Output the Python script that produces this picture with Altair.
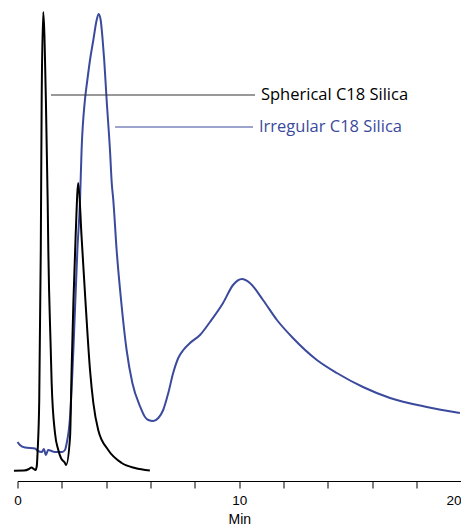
import altair as alt
import pandas as pd

# Spherical C18 Silica trace (time in min, detector signal in arbitrary units)
sph_t = [-0.16, 0.29, 0.52, 0.63, 0.74, 0.81, 0.87, 0.91, 0.98, 1.05, 1.09, 1.16,
         1.28, 1.36, 1.39, 1.50, 1.54, 1.69, 1.84, 1.96, 2.14, 2.19, 2.37, 2.44,
         2.52, 2.62, 2.74, 2.89, 3.07, 3.27, 3.42, 3.64, 4.09, 4.70, 5.30, 5.97]
sph_s = [10.3, 10.5, 12, 13.5, 12, 11, 15, 31, 81, 231, 381, 469,
         381, 281, 231, 131, 98, 48, 31, 23, 18, 16, 44, 111,
         178, 244, 298, 244, 178, 111, 78, 51, 31, 18, 13, 10.5]

# Irregular C18 Silica trace
irr_t = [0.00, 0.11, 0.34, 0.79, 0.92, 1.10, 1.19, 1.28, 1.38, 1.69, 2.01, 2.14,
         2.22, 2.37, 2.52, 2.70, 2.82, 2.89, 3.04, 3.15, 3.27, 3.42, 3.57, 3.66,
         3.75, 3.84, 3.91, 4.02, 4.17, 4.25, 4.32, 4.47, 4.67, 4.92, 5.18, 5.52,
         5.75, 5.90, 6.12, 6.35, 6.57, 6.80, 7.02, 7.25, 7.48, 7.78, 8.23, 8.68,
         9.27, 9.72, 10.12, 10.48, 11.07, 11.70, 12.42, 13.50, 14.40, 15.58, 16.80,
         18.46, 19.95]
irr_s = [39, 36, 33.5, 32.5, 30, 29, 32, 26, 31, 29, 29, 31,
         38, 64, 131, 231, 281, 331, 381, 401, 421, 441, 461, 467,
         461, 441, 421, 381, 331, 298, 281, 231, 181, 131, 98, 75,
         64, 61, 60, 63, 71, 88, 108, 123, 131, 138, 146, 159,
         178, 196, 202, 198, 181, 161, 143, 121, 108, 94, 83,
         74, 68]

labels = ["Spherical C18 Silica", "Irregular C18 Silica"]
label_colors = ["#000000", "#3b4a9c"]
leader_colors = ["#333333", "#3b4a9c"]
leader_start = [1.51, 4.40]
leader_end = [10.71, 10.62]
label_x = [10.98, 10.89]
label_y = [386, 354]

tick_values = list(range(0, 21))

sph = pd.DataFrame({"t": sph_t, "s": sph_s})
irr = pd.DataFrame({"t": irr_t, "s": irr_s})
ann = pd.DataFrame({"label": labels, "color": label_colors, "lcolor": leader_colors,
                    "x0": leader_start, "x1": leader_end, "tx": label_x, "ty": label_y})

xscale = alt.Scale(domain=[0, 20], nice=False, zero=False)
yscale = alt.Scale(domain=[0, 469], nice=False, zero=False)

xaxis = alt.Axis(values=tick_values, labelExpr="datum.value % 10 == 0 ? datum.label : ''",
                 labelAlign=alt.ExprRef(expr="datum.value == 20 ? 'right' : 'center'"),
                 grid=False, tickSize=7, tickColor="black", domainColor="black",
                 labelFont="Liberation Sans", labelFontSize=13.5, labelColor="black",
                 labelPadding=5, title="Min", titleFont="Liberation Sans",
                 titleFontSize=14, titleFontWeight="normal", titleColor="black",
                 titlePadding=6, labelFlush=False)

blue_line = alt.Chart(irr).mark_line(color="#3b4a9c", strokeWidth=2, interpolate="monotone").encode(
    x=alt.X("t:Q", scale=xscale, axis=xaxis),
    y=alt.Y("s:Q", scale=yscale, axis=None),
)
black_line = alt.Chart(sph).mark_line(color="#000000", strokeWidth=2, interpolate="monotone").encode(
    x=alt.X("t:Q", scale=xscale),
    y=alt.Y("s:Q", scale=yscale),
)
leaders = alt.Chart(ann).mark_rule(strokeWidth=1).encode(
    x=alt.X("x0:Q", scale=xscale),
    x2="x1:Q",
    y=alt.Y("ty:Q", scale=yscale),
    color=alt.Color("lcolor:N", scale=None),
)
texts = alt.Chart(ann).mark_text(align="left", baseline="middle", font="Open Sans",
                                 fontSize=16.5).encode(
    x=alt.X("tx:Q", scale=xscale),
    y=alt.Y("ty:Q", scale=yscale),
    text="label:N",
    color=alt.Color("color:N", scale=None),
)

chart = alt.layer(blue_line, black_line, leaders, texts).properties(
    width=443.5, height=469,
    autosize=alt.AutoSizeParams(type="none"),
    padding={"left": 9.5, "top": 4, "right": 0, "bottom": 46},
).configure_view(stroke=None)

chart.save("out.html", embed_options={"renderer": "svg", "actions": False})
